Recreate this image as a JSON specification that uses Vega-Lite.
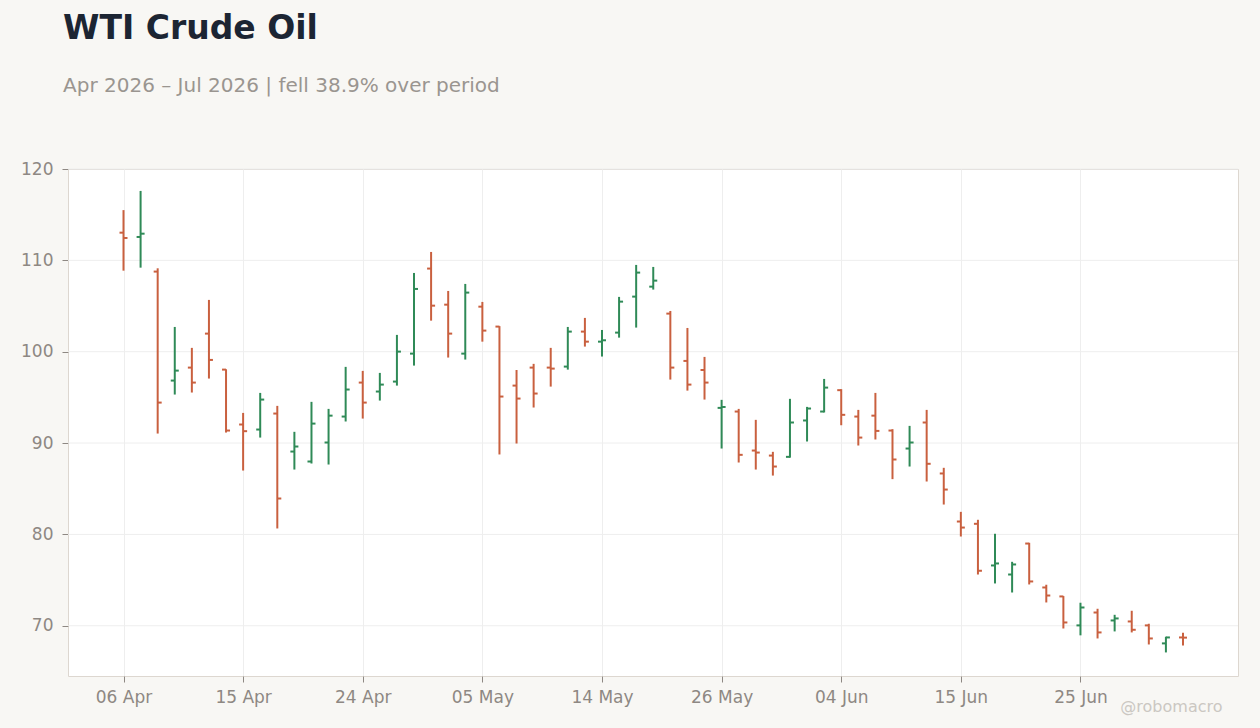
{
  "$schema": "https://vega.github.io/schema/vega-lite/v6.json",
  "width": 1170,
  "height": 507,
  "autosize": "none",
  "padding": {"left": 68, "top": 169, "right": 22, "bottom": 52},
  "background": "#f8f7f4",
  "title": {
    "text": "WTI Crude Oil",
    "subtitle": "Apr 2026 – Jul 2026 | fell 38.9% over period",
    "anchor": "start",
    "frame": "group",
    "dx": -5,
    "offset": 64,
    "font": "DejaVu Sans",
    "fontSize": 33,
    "fontWeight": "bold",
    "color": "#1c2533",
    "subtitleFont": "DejaVu Sans",
    "subtitleFontSize": 20,
    "subtitleColor": "#9a9590",
    "subtitlePadding": 30
  },
  "config": {
    "view": {"fill": "white", "stroke": "#ddd7d0", "strokeWidth": 1},
    "axis": {
      "labelFont": "DejaVu Sans",
      "labelFontSize": 17,
      "labelColor": "#8e8883",
      "tickColor": "#8e8883",
      "tickSize": 6,
      "domain": false,
      "gridColor": "#eeeeee",
      "gridWidth": 1
    }
  },
  "layer": [
    {
      "data": {"values": [{"level": 70}, {"level": 80}, {"level": 90}, {"level": 100}, {"level": 110}, {"level": 120}]},
      "mark": {"type": "rule", "color": "#eeeeee", "strokeWidth": 1},
      "encoding": {
        "y": {
          "field": "level",
          "type": "quantitative",
          "scale": {"domain": [64.5, 120], "nice": false, "zero": false},
          "axis": {"title": null, "values": [70, 80, 90, 100, 110, 120], "labelPadding": 9, "grid": false}
        }
      }
    },
    {
      "data": {
        "values": [
          {"date": "2026-04-06", "open": 113.03, "high": 115.5, "low": 108.87, "close": 112.45},
          {"date": "2026-04-07", "open": 112.56, "high": 117.6, "low": 109.2, "close": 112.92},
          {"date": "2026-04-08", "open": 108.77, "high": 109.13, "low": 91.04, "close": 94.43},
          {"date": "2026-04-09", "open": 96.84, "high": 102.71, "low": 95.31, "close": 97.93},
          {"date": "2026-04-10", "open": 98.26, "high": 100.42, "low": 95.53, "close": 96.62},
          {"date": "2026-04-13", "open": 101.98, "high": 105.67, "low": 97.06, "close": 99.1},
          {"date": "2026-04-14", "open": 98.04, "high": 98.08, "low": 91.15, "close": 91.37},
          {"date": "2026-04-15", "open": 92.03, "high": 93.3, "low": 86.99, "close": 91.3},
          {"date": "2026-04-16", "open": 91.48, "high": 95.49, "low": 90.6, "close": 94.76},
          {"date": "2026-04-17", "open": 93.23, "high": 94.07, "low": 80.65, "close": 83.93},
          {"date": "2026-04-20", "open": 89.07, "high": 91.23, "low": 87.1, "close": 89.62},
          {"date": "2026-04-21", "open": 87.98, "high": 94.51, "low": 87.76, "close": 92.13},
          {"date": "2026-04-22", "open": 90.06, "high": 93.74, "low": 87.65, "close": 93.0},
          {"date": "2026-04-23", "open": 92.9, "high": 98.34, "low": 92.36, "close": 95.86},
          {"date": "2026-04-24", "open": 96.62, "high": 97.9, "low": 92.68, "close": 94.43},
          {"date": "2026-04-27", "open": 95.64, "high": 97.68, "low": 94.65, "close": 96.4},
          {"date": "2026-04-28", "open": 96.73, "high": 101.84, "low": 96.29, "close": 100.01},
          {"date": "2026-04-29", "open": 99.79, "high": 108.62, "low": 98.48, "close": 106.87},
          {"date": "2026-04-30", "open": 109.1, "high": 110.92, "low": 103.4, "close": 105.04},
          {"date": "2026-05-01", "open": 105.15, "high": 106.65, "low": 99.36, "close": 101.98},
          {"date": "2026-05-04", "open": 99.79, "high": 107.42, "low": 99.14, "close": 106.47},
          {"date": "2026-05-05", "open": 104.93, "high": 105.45, "low": 101.1, "close": 102.31},
          {"date": "2026-05-06", "open": 102.75, "high": 102.8, "low": 88.75, "close": 95.09},
          {"date": "2026-05-07", "open": 96.29, "high": 98.0, "low": 89.95, "close": 94.87},
          {"date": "2026-05-08", "open": 98.26, "high": 98.67, "low": 93.89, "close": 95.42},
          {"date": "2026-05-11", "open": 98.26, "high": 100.42, "low": 96.18, "close": 98.15},
          {"date": "2026-05-12", "open": 98.37, "high": 102.71, "low": 98.04, "close": 102.2},
          {"date": "2026-05-13", "open": 102.2, "high": 103.7, "low": 100.56, "close": 101.1},
          {"date": "2026-05-14", "open": 101.1, "high": 102.38, "low": 99.47, "close": 101.25},
          {"date": "2026-05-15", "open": 102.09, "high": 106.0, "low": 101.54, "close": 105.48},
          {"date": "2026-05-18", "open": 106.03, "high": 109.5, "low": 102.64, "close": 108.66},
          {"date": "2026-05-19", "open": 107.12, "high": 109.28, "low": 106.8, "close": 107.78},
          {"date": "2026-05-20", "open": 104.17, "high": 104.46, "low": 96.95, "close": 98.26},
          {"date": "2026-05-21", "open": 98.99, "high": 102.6, "low": 95.74, "close": 96.4},
          {"date": "2026-05-22", "open": 98.0, "high": 99.43, "low": 94.76, "close": 96.62},
          {"date": "2026-05-26", "open": 93.85, "high": 94.73, "low": 89.4, "close": 93.95},
          {"date": "2026-05-27", "open": 93.45, "high": 93.74, "low": 87.87, "close": 88.71},
          {"date": "2026-05-28", "open": 89.18, "high": 92.54, "low": 87.1, "close": 88.96},
          {"date": "2026-05-29", "open": 88.63, "high": 89.04, "low": 86.44, "close": 87.43},
          {"date": "2026-06-01", "open": 88.49, "high": 94.84, "low": 88.4, "close": 92.25},
          {"date": "2026-06-02", "open": 92.47, "high": 93.96, "low": 90.17, "close": 93.78},
          {"date": "2026-06-03", "open": 93.45, "high": 97.02, "low": 93.35, "close": 96.07},
          {"date": "2026-06-04", "open": 95.79, "high": 95.9, "low": 91.95, "close": 93.09},
          {"date": "2026-06-05", "open": 92.9, "high": 93.63, "low": 89.73, "close": 90.6},
          {"date": "2026-06-08", "open": 93.0, "high": 95.49, "low": 90.39, "close": 91.33},
          {"date": "2026-06-09", "open": 91.37, "high": 91.52, "low": 86.05, "close": 88.2},
          {"date": "2026-06-10", "open": 89.4, "high": 91.88, "low": 87.43, "close": 90.06},
          {"date": "2026-06-11", "open": 92.25, "high": 93.63, "low": 85.79, "close": 87.73},
          {"date": "2026-06-12", "open": 86.67, "high": 87.29, "low": 83.27, "close": 84.91},
          {"date": "2026-06-15", "open": 81.41, "high": 82.47, "low": 79.77, "close": 80.75},
          {"date": "2026-06-16", "open": 81.16, "high": 81.6, "low": 75.61, "close": 76.02},
          {"date": "2026-06-17", "open": 76.6, "high": 80.07, "low": 74.63, "close": 76.82},
          {"date": "2026-06-18", "open": 75.61, "high": 77.0, "low": 73.64, "close": 76.71},
          {"date": "2026-06-22", "open": 79.0, "high": 79.08, "low": 74.52, "close": 74.85},
          {"date": "2026-06-23", "open": 74.19, "high": 74.49, "low": 72.55, "close": 73.31},
          {"date": "2026-06-24", "open": 73.21, "high": 73.25, "low": 69.7, "close": 70.36},
          {"date": "2026-06-25", "open": 70.04, "high": 72.52, "low": 68.95, "close": 72.0},
          {"date": "2026-06-26", "open": 71.45, "high": 71.86, "low": 68.61, "close": 69.27},
          {"date": "2026-06-29", "open": 70.58, "high": 71.2, "low": 69.38, "close": 70.8},
          {"date": "2026-06-30", "open": 70.47, "high": 71.64, "low": 69.27, "close": 69.56},
          {"date": "2026-07-01", "open": 70.04, "high": 70.22, "low": 67.95, "close": 68.61},
          {"date": "2026-07-02", "open": 68.07, "high": 68.8, "low": 67.08, "close": 68.72},
          {"date": "2026-07-06", "open": 68.72, "high": 69.24, "low": 67.84, "close": 68.7}
        ]
      },
      "encoding": {
        "x": {
          "field": "date",
          "type": "ordinal",
          "sort": null,
          "scale": {"type": "point", "padding": 0, "range": [55.5, 1115]},
          "axis": {
            "title": "@robomacro",
            "titleFont": "DejaVu Sans",
            "titleFontSize": 16,
            "titleFontWeight": "normal",
            "titleColor": "#cbc7c2",
            "titleAnchor": "end",
            "titleAlign": "right",
            "titleBaseline": "middle",
            "titleX": 1154,
            "titleY": 30,
            "values": ["2026-04-06", "2026-04-15", "2026-04-24", "2026-05-05", "2026-05-14", "2026-05-26", "2026-06-04", "2026-06-15", "2026-06-25"],
            "labelExpr": "utcFormat(toDate(datum.value), '%d %b')",
            "labelAngle": 0,
            "labelPadding": 7,
            "grid": true
          }
        },
        "color": {
          "condition": {"test": "datum.close >= datum.open", "value": "#2f8a57"},
          "value": "#c9603f"
        }
      },
      "layer": [
        {
          "mark": {"type": "rule", "strokeWidth": 2, "opacity": 1},
          "encoding": {
            "y": {"field": "low", "type": "quantitative"},
            "y2": {"field": "high"}
          }
        },
        {
          "mark": {"type": "tick", "xOffset": -2, "size": 4, "thickness": 2, "opacity": 1},
          "encoding": {"y": {"field": "open", "type": "quantitative"}}
        },
        {
          "mark": {"type": "tick", "xOffset": 2, "size": 4, "thickness": 2, "opacity": 1},
          "encoding": {"y": {"field": "close", "type": "quantitative"}}
        }
      ]
    }
  ]
}
